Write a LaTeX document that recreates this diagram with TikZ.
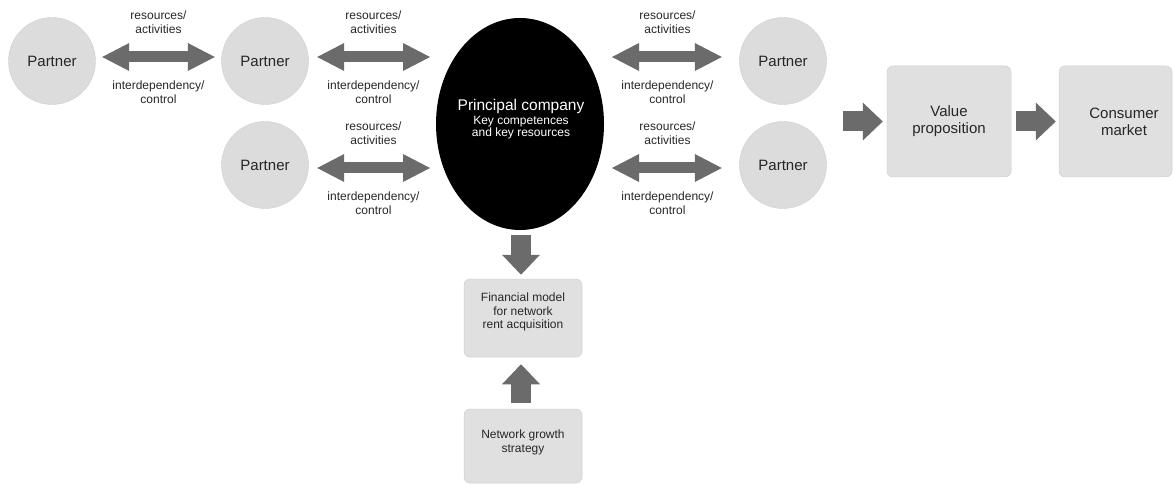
\documentclass[tikz,border=0pt]{standalone}
\usepackage{fontspec}
\setmainfont{Liberation Sans}
\usetikzlibrary{arrows.meta,shapes.geometric}

\definecolor{partnerfill}{HTML}{DCDCDC}
\definecolor{boxfill}{HTML}{E0E0E0}
\definecolor{boxedge}{HTML}{CFCFCF}
\definecolor{arrowgrey}{HTML}{6B6B6B}
\definecolor{txt}{HTML}{262626}

\begin{document}
\begin{tikzpicture}[x=1pt,y=-1pt,
  partner/.style={circle, fill=partnerfill, draw=boxedge, line width=0.4pt,
    minimum size=87pt, inner sep=0pt, text=txt, font=\fontsize{15}{17}\selectfont},
  stagebox/.style={rectangle, rounded corners=6pt, fill=boxfill, draw=boxedge,
    line width=0.5pt, inner sep=0pt},
  boxtext/.style={align=center, text=txt, inner sep=0pt},
  lbl/.style={align=center, text=txt, inner sep=0pt, font=\fontsize{12}{14}\selectfont},
  dbl/.style={arrowgrey, line width=11pt,
    {Triangle[length=27pt,width=28pt,line width=0pt]}-{Triangle[length=27pt,width=28pt,line width=0pt]}},
  fat/.style={arrowgrey, line width=20pt, -{Triangle[length=20pt,width=38pt,line width=0pt]}}
]
\useasboundingbox (0,0) rectangle (1173,484);

% partners
\node[partner] (p1) at (52,61)  {Partner};
\node[partner] (p2) at (265,61) {Partner};
\node[partner] (p3) at (265,165) {Partner};
\node[partner] (p4) at (783,61) {Partner};
\node[partner] (p5) at (783,165) {Partner};

% principal company
\node[ellipse, fill=black, minimum width=168pt, minimum height=212pt, inner sep=0pt] (pc) at (520,124) {};
\node[align=center, text=white, inner sep=0pt, font=\fontsize{12}{12}\selectfont] (pctext) at (521,119)
  {{\fontsize{15.5}{17}\selectfont Principal company}\\[1.5pt]
   Key competences\\ and key resources};

% value chain boxes
\node[stagebox, minimum width=124pt, minimum height=111pt] (vp) at (949,121.5) {};
\node[boxtext, font=\fontsize{15}{17}\selectfont] (vptext) at (vp.center) {Value\\proposition};
\node[stagebox, minimum width=113pt, minimum height=111pt] (cm) at (1115.5,121.5) {};
\node[boxtext, font=\fontsize{15}{17}\selectfont] (cmtext) at (1124,122) {Consumer\\market};

\node[stagebox, minimum width=118pt, minimum height=78pt] (fin) at (523,318) {};
\node[boxtext, font=\fontsize{12}{13.5}\selectfont] (fintext) at (523,312) {Financial model\\for network\\rent acquisition};
\node[stagebox, minimum width=118pt, minimum height=74pt] (net) at (523,446) {};
\node[boxtext, font=\fontsize{12}{14}\selectfont] (nettext) at (523,442) {Network growth\\strategy};

% free ends of the connectors at the principal company
\coordinate (pcw1) at (430,57);
\coordinate (pcw2) at (430,168);
\coordinate (pce1) at (612,57);
\coordinate (pce2) at (612,168);
\coordinate (vpin) at (843,121.5);

% two-way exchanges
\draw[dbl] ([shift={(6.5,-4)}]p1.east) -- ([shift={(-6.5,-4)}]p2.west);
\draw[dbl] ([shift={(8.5,-4)}]p2.east) -- (pcw1);
\draw[dbl] ([shift={(8.5,3)}]p3.east) -- (pcw2);
\draw[dbl] (pce1) -- ([shift={(-17.5,-4)}]p4.west);
\draw[dbl] (pce2) -- ([shift={(-17.5,3)}]p5.west);

% exchange labels
\node[lbl] (r1) at (158.5,22) {resources/\\activities};
\node[lbl] (i1) at (158.5,92) {interdependency/\\control};
\node[lbl] (r2) at (373.5,22) {resources/\\activities};
\node[lbl] (i2) at (373.5,92) {interdependency/\\control};
\node[lbl] (r3) at (373.5,133) {resources/\\activities};
\node[lbl] (i3) at (373.5,203) {interdependency/\\control};
\node[lbl] (r4) at (667.5,22) {resources/\\activities};
\node[lbl] (i4) at (667.5,92) {interdependency/\\control};
\node[lbl] (r5) at (667.5,133) {resources/\\activities};
\node[lbl] (i5) at (667.5,203) {interdependency/\\control};

% one-way flows
\draw[fat] (vpin) -- ([xshift=-4pt]vp.west);
\draw[fat] ([xshift=5pt]vp.east) -- ([xshift=-3pt]cm.west);
\draw[fat] ([shift={(1,5)}]pc.south) -- ([shift={(-2,-4)}]fin.north);
\draw[fat] ([shift={(-2,-6)}]net.north) -- ([shift={(-2,7)}]fin.south);
\end{tikzpicture}
\end{document}
